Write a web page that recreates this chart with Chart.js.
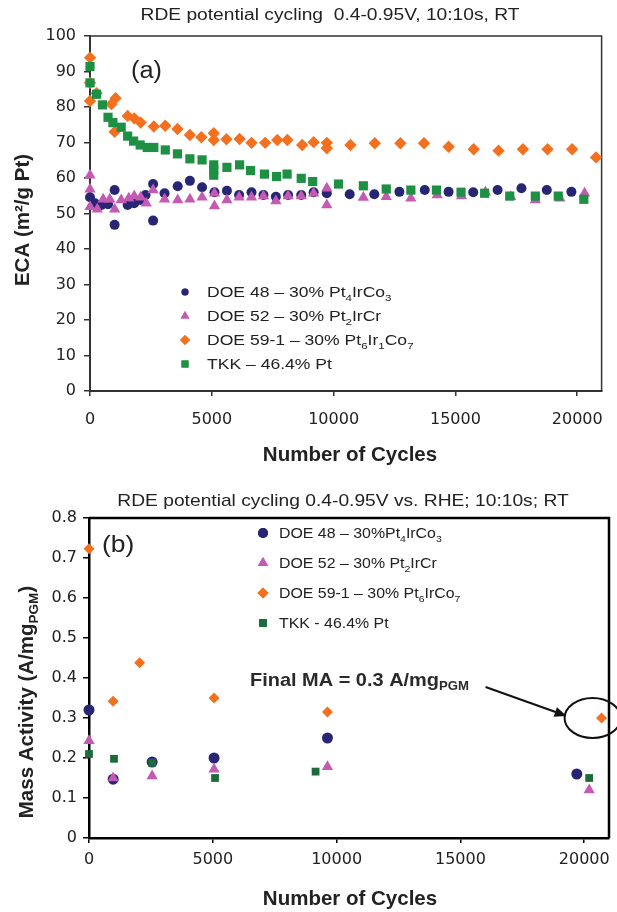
<!DOCTYPE html>
<html>
<head>
<meta charset="utf-8">
<script src="https://cdn.jsdelivr.net/npm/chart.js@4.4.1/dist/chart.umd.min.js"></script>
<style>
  html, body { margin: 0; padding: 0; background: #fff; }
  canvas { display: block; }
</style>
</head>
<body>
<canvas id="chartA" width="617" height="470"></canvas>
<canvas id="chartB" width="617" height="442"></canvas>
<script>
  // ---- panel (a): ECA vs cycles ----
  const ecaDoe48Cycles = [0, 200, 470, 740, 1010, 1010, 1545, 1815, 2080, 2280, 2590, 2590, 3060, 3600, 4100, 4600, 5110, 5620, 6120, 6630, 7120, 7630, 8130, 8670, 9180, 9720, 10660, 11670, 12700, 13740, 14720, 15730, 16730, 17710, 18750, 19760];
  const ecaDoe48 = [54.6, 52.9, 52.4, 52.6, 56.6, 46.8, 52.4, 52.9, 53.8, 55.2, 58.3, 48.0, 55.7, 57.7, 59.2, 57.4, 56.0, 56.4, 55.2, 56.0, 55.2, 54.7, 55.2, 55.2, 56.0, 55.7, 55.4, 55.4, 56.1, 56.6, 56.1, 56.0, 56.6, 57.1, 56.6, 56.1];

  const ecaDoe52Cycles = [0, 0, 0, 300, 540, 810, 1010, 1280, 1590, 1815, 2080, 2310, 2590, 3060, 3600, 4100, 4600, 5110, 5110, 5620, 6120, 6630, 7120, 7630, 8130, 8670, 9180, 9720, 9720, 11220, 12160, 13170, 14250, 15250, 16230, 17270, 18280, 19290, 20300];
  const ecaDoe52 = [60.8, 56.8, 51.9, 51.2, 54.0, 54.0, 51.2, 53.8, 54.3, 54.9, 54.6, 52.9, 56.6, 54.0, 53.8, 54.0, 54.6, 55.7, 52.1, 53.8, 54.6, 54.6, 54.9, 53.5, 54.9, 54.9, 55.7, 57.1, 52.4, 54.5, 54.7, 54.3, 55.2, 54.9, 56.0, 54.7, 53.8, 54.3, 55.7];

  const ecaDoe59Cycles = [0, 0, 0, 270, 875, 1050, 1010, 1545, 1815, 2080, 2620, 3090, 3590, 4100, 4570, 5080, 5080, 5600, 6140, 6630, 7190, 7690, 8100, 8710, 9180, 9720, 9720, 10690, 11690, 12740, 13710, 14720, 15750, 16770, 17770, 18780, 19790, 20770];
  const ecaDoe59 = [93.9, 86.8, 81.7, 83.9, 80.8, 82.5, 73.0, 77.5, 76.8, 75.6, 74.5, 74.7, 73.8, 72.1, 71.5, 72.6, 70.7, 70.9, 71.0, 69.9, 69.9, 70.7, 70.7, 69.3, 70.1, 69.9, 68.4, 69.3, 69.8, 69.8, 69.8, 68.8, 68.1, 67.7, 68.1, 68.1, 68.1, 65.8];

  const ecaTkkCycles = [0, 0, 270, 510, 740, 940, 1280, 1545, 1790, 2060, 2350, 2620, 3090, 3590, 4100, 4600, 5080, 5080, 5080, 5620, 6140, 6590, 7160, 7660, 8090, 8670, 9140, 10200, 11220, 12160, 13170, 14220, 15230, 16200, 17230, 18280, 19220, 20270];
  const ecaTkk = [91.4, 86.8, 83.6, 80.6, 77.1, 75.6, 74.3, 71.8, 70.4, 69.3, 68.6, 68.6, 67.9, 66.8, 65.4, 65.1, 63.7, 62.3, 60.8, 63.0, 63.7, 62.1, 61.1, 60.4, 61.1, 59.9, 59.0, 58.3, 57.8, 56.9, 56.6, 56.6, 56.0, 55.7, 54.9, 54.9, 54.9, 54.0];

  const ecaTicks = [0, 10, 20, 30, 40, 50, 60, 70, 80, 90, 100];

  // ---- panel (b): mass activity vs cycles ----
  const maDoe48Cycles = [0, 975, 2550, 5050, 9630, 19700];
  const maDoe48 = [0.32, 0.147, 0.19, 0.2, 0.25, 0.16];
  const maDoe52Cycles = [0, 975, 2550, 5050, 9630, 20200];
  const maDoe52 = [0.243, 0.15, 0.155, 0.172, 0.178, 0.12];
  const maDoe59Cycles = [0, 975, 2045, 5050, 9630, 20700];
  const maDoe59 = [0.723, 0.342, 0.438, 0.35, 0.315, 0.30];
  const maTkkCycles = [0, 1010, 2550, 5090, 9150, 20200];
  const maTkk = [0.21, 0.198, 0.188, 0.15, 0.166, 0.15];

  const maTicks = [0, 0.1, 0.2, 0.3, 0.4, 0.5, 0.6, 0.7, 0.8];
  const cycleTicks = [0, 5000, 10000, 15000, 20000];

  const NAVY = '#272674';
  const PINK = '#c45ab3';
  const ORANGE = '#f4701f';
  const GREEN_A = '#1d9044';
  const GREEN_B = '#1b6c38';
  const FONT = "'Liberation Sans', Arial, sans-serif";
  const TICK_FONT = "'DejaVu Sans', 'Liberation Sans', sans-serif";
  const TXT = '#222';

  const pts = (xs, ys) => xs.map((x, i) => ({ x: x, y: ys[i] }));

  // text with sub / superscript parts, optionally stretched sideways
  function richWidth(ctx, parts, size, weight) {
    let w = 0;
    parts.forEach(p => {
      const s = p[1] ? size * 0.66 : size;
      ctx.font = weight + ' ' + s + 'px ' + FONT;
      w += ctx.measureText(p[0]).width;
    });
    return w;
  }
  function drawRich(ctx, parts, x, y, size, weight, align, sx) {
    sx = sx || 1;
    let start = 0;
    if (align === 'center') start = -richWidth(ctx, parts, size, weight) / 2;
    ctx.save();
    ctx.translate(x, y);
    ctx.scale(sx, 1);
    ctx.textBaseline = 'alphabetic';
    ctx.textAlign = 'left';
    let cx = start;
    parts.forEach(p => {
      const s = p[1] ? size * 0.66 : size;
      ctx.font = weight + ' ' + s + 'px ' + FONT;
      let dy = 0;
      if (p[1] === 'sub') dy = size * 0.22;
      if (p[1] === 'sup') dy = -size * 0.38;
      ctx.fillText(p[0], cx, dy);
      cx += ctx.measureText(p[0]).width;
    });
    ctx.restore();
  }

  function ds(label, data, color, style, radius, order) {
    return {
      label: label, data: data, pointStyle: style, pointRadius: radius, pointHoverRadius: radius,
      backgroundColor: color, borderColor: color, borderWidth: 0, showLine: false, order: order, clip: false
    };
  }

  const legendA = [
    { style: 'circle', color: NAVY, r: 3.5, parts: [['DOE 48 \u2013 30% Pt', ''], ['4', 'sub'], ['IrCo', ''], ['3', 'sub']] },
    { style: 'triangle', color: PINK, r: 5, parts: [['DOE 52 \u2013 30% Pt', ''], ['2', 'sub'], ['IrCr', '']] },
    { style: 'rectRot', color: ORANGE, r: 5, parts: [['DOE 59-1 \u2013 30% Pt', ''], ['6', 'sub'], ['Ir', ''], ['1', 'sub'], ['Co', ''], ['7', 'sub']] },
    { style: 'rect', color: GREEN_A, r: 5, parts: [['TKK \u2013 46.4% Pt', '']] }
  ];
  const legendB = [
    { style: 'circle', color: NAVY, r: 5, parts: [['DOE 48 \u2013 30%Pt', ''], ['4', 'sub'], ['IrCo', ''], ['3', 'sub']] },
    { style: 'triangle', color: PINK, r: 6, parts: [['DOE 52 \u2013 30% Pt', ''], ['2', 'sub'], ['IrCr', '']] },
    { style: 'rectRot', color: ORANGE, r: 5.5, parts: [['DOE 59-1 \u2013 30% Pt', ''], ['6', 'sub'], ['IrCo', ''], ['7', 'sub']] },
    { style: 'rect', color: GREEN_B, r: 5.5, parts: [['TKK - 46.4% Pt', '']] }
  ];

  // frame on top/right, titles, legend, panel letters
  function decorPlugin(cfg) {
    return {
      id: 'decor',
      beforeDatasetsDraw(chart) {
        const { ctx, chartArea: a } = chart;
        ctx.save();
        ctx.strokeStyle = cfg.frameColor;
        ctx.lineWidth = cfg.frameWidth;
        ctx.beginPath();
        ctx.moveTo(a.left, a.top);
        ctx.lineTo(a.right, a.top);
        ctx.lineTo(a.right, a.bottom);
        ctx.stroke();
        ctx.restore();
      },
      afterDraw(chart) {
        const { ctx } = chart;
        ctx.save();
        ctx.fillStyle = TXT;
        drawRich(ctx, [[cfg.title, '']], cfg.titleX, cfg.titleY, cfg.titleSize, 'normal', 'center', cfg.titleStretch);
        drawRich(ctx, [['Number of Cycles', '']], cfg.xTitleX, cfg.xTitleY, cfg.axisTitleSize, 'bold', 'center');
        ctx.save();
        ctx.translate(cfg.yTitleX, cfg.yTitleY);
        ctx.rotate(-Math.PI / 2);
        drawRich(ctx, cfg.yTitle, 0, 0, cfg.axisTitleSize, 'bold', 'center');
        ctx.restore();
        drawRich(ctx, [[cfg.letter, '']], cfg.letterX, cfg.letterY, cfg.letterSize, 'normal', 'left', 1.1);
        cfg.legend.forEach((item, i) => {
          const y = cfg.legendY + i * cfg.legendGap;
          ctx.fillStyle = item.color;
          Chart.helpers.drawPoint(ctx, { pointStyle: item.style, radius: item.r, borderWidth: 0 }, cfg.legendMarkX, y);
          ctx.fill();
          ctx.fillStyle = TXT;
          drawRich(ctx, item.parts, cfg.legendTextX, y + cfg.legendSize * 0.36, cfg.legendSize, 'normal', 'left', cfg.legendStretch);
        });
        if (cfg.extra) cfg.extra(chart);
        ctx.restore();
      }
    };
  }

  function axes(xMax, yMax, yTicks, yWidth, xHeight, yPad, xPad, axisColor, axisWidth, fmt) {
    return {
      x: {
        type: 'linear', min: 0, max: xMax,
        afterFit(s) { s.height = xHeight; },
        afterBuildTicks(s) { s.ticks = cycleTicks.map(v => ({ value: v })); },
        grid: { drawOnChartArea: false, drawTicks: true, tickLength: 5, color: axisColor, lineWidth: 1.5 },
        border: { display: true, color: axisColor, width: axisWidth },
        ticks: { color: TXT, font: { family: TICK_FONT, size: 16 }, padding: xPad, maxRotation: 0, autoSkip: false,
                 callback: v => String(v) }
      },
      y: {
        type: 'linear', min: 0, max: yMax,
        afterFit(s) { s.width = yWidth; },
        afterBuildTicks(s) { s.ticks = yTicks.map(v => ({ value: v })); },
        grid: { drawOnChartArea: false, drawTicks: true, tickLength: 6, color: axisColor, lineWidth: 1.5 },
        border: { display: true, color: axisColor, width: axisWidth },
        ticks: { color: TXT, font: { family: TICK_FONT, size: 16 }, padding: yPad, autoSkip: false, callback: fmt }
      }
    };
  }

  const chartA = new Chart(document.getElementById('chartA'), {
    type: 'scatter',
    data: {
      datasets: [
        ds('DOE 48', pts(ecaDoe48Cycles, ecaDoe48), NAVY, 'circle', 5, 4),
        ds('DOE 52', pts(ecaDoe52Cycles, ecaDoe52), PINK, 'triangle', 6.5, 3),
        ds('DOE 59-1', pts(ecaDoe59Cycles, ecaDoe59), ORANGE, 'rectRot', 6.2, 2),
        ds('TKK', pts(ecaTkkCycles, ecaTkk), GREEN_A, 'rect', 6.5, 1)
      ]
    },
    options: {
      responsive: false, animation: false, events: [],
      layout: { padding: { top: 36, right: 6, left: 0, bottom: 0 } },
      plugins: { legend: { display: false }, tooltip: { enabled: false } },
      scales: axes(21000, 100, ecaTicks, 90, 79, 8, 14, '#333', 2, v => String(v))
    },
    plugins: [decorPlugin({
      frameColor: '#333', frameWidth: 1.5,
      title: 'RDE potential cycling  0.4-0.95V, 10:10s, RT', titleX: 330, titleY: 20, titleSize: 16, titleStretch: 1.2,
      xTitleX: 350, xTitleY: 461, axisTitleSize: 20.5,
      yTitle: [['ECA (m\u00b2/g Pt)', '']], yTitleX: 29, yTitleY: 220,
      letter: '(a)', letterX: 131, letterY: 78, letterSize: 23,
      legend: legendA, legendY: 292, legendGap: 24, legendMarkX: 185, legendTextX: 207, legendSize: 15, legendStretch: 1.17
    })]
  });

  const chartB = new Chart(document.getElementById('chartB'), {
    type: 'scatter',
    data: {
      datasets: [
        ds('DOE 48', pts(maDoe48Cycles, maDoe48), NAVY, 'circle', 5.5, 4),
        ds('DOE 52', pts(maDoe52Cycles, maDoe52), PINK, 'triangle', 6.5, 3),
        ds('DOE 59-1', pts(maDoe59Cycles, maDoe59), ORANGE, 'rectRot', 5.5, 2),
        ds('TKK', pts(maTkkCycles, maTkk), GREEN_B, 'rect', 5.5, 1)
      ]
    },
    options: {
      responsive: false, animation: false, events: [],
      layout: { padding: { top: 48, right: 4, left: 0, bottom: 0 } },
      plugins: { legend: { display: false }, tooltip: { enabled: false } },
      scales: axes(21000, 0.8, maTicks, 89, 74, 6, 7, '#000', 2.5, v => (v === 0 ? '0' : v.toFixed(1)))
    },
    plugins: [decorPlugin({
      frameColor: '#000', frameWidth: 2.5,
      title: 'RDE potential cycling 0.4-0.95V vs. RHE; 10:10s; RT', titleX: 343, titleY: 36, titleSize: 17, titleStretch: 1.13,
      xTitleX: 350, xTitleY: 435, axisTitleSize: 20.5,
      yTitle: [['Mass Activity (A/mg', ''], ['PGM', 'sub'], [')', '']], yTitleX: 33, yTitleY: 232,
      letter: '(b)', letterX: 102, letterY: 82, letterSize: 24,
      legend: legendB, legendY: 63, legendGap: 30, legendMarkX: 263, legendTextX: 279, legendSize: 15, legendStretch: 1.06,
      extra(chart) {
        const { ctx } = chart;
        const xs = chart.scales.x, ys = chart.scales.y;
        const last = maDoe59.length - 1;
        const px = xs.getPixelForValue(maDoe59Cycles[last]);
        const py = ys.getPixelForValue(maDoe59[last]);
        const cx = px - 9, cy = py;
        ctx.strokeStyle = '#111';
        ctx.lineWidth = 2;
        ctx.beginPath();
        ctx.ellipse(cx, cy, 28, 20, 0, 0, Math.PI * 2);
        ctx.stroke();
        // arrow pointing at the circled point
        const tx = cx - 26, ty = cy - 2, sx = cx - 107, sy = cy - 31;
        const ang = Math.atan2(ty - sy, tx - sx);
        ctx.beginPath();
        ctx.moveTo(sx, sy);
        ctx.lineTo(tx - 8 * Math.cos(ang), ty - 8 * Math.sin(ang));
        ctx.stroke();
        ctx.fillStyle = '#111';
        ctx.beginPath();
        ctx.moveTo(tx, ty);
        ctx.lineTo(tx - 12 * Math.cos(ang) + 5 * Math.sin(ang), ty - 12 * Math.sin(ang) - 5 * Math.cos(ang));
        ctx.lineTo(tx - 12 * Math.cos(ang) - 5 * Math.sin(ang), ty - 12 * Math.sin(ang) + 5 * Math.cos(ang));
        ctx.closePath();
        ctx.fill();
        ctx.fillStyle = '#2a2a2a';
        drawRich(ctx, [['Final MA = 0.3 A/mg', ''], ['PGM', 'sub']], 250, 216, 19, 'bold', 'left', 1.05);
      }
    })]
  });
</script>
</body>
</html>
